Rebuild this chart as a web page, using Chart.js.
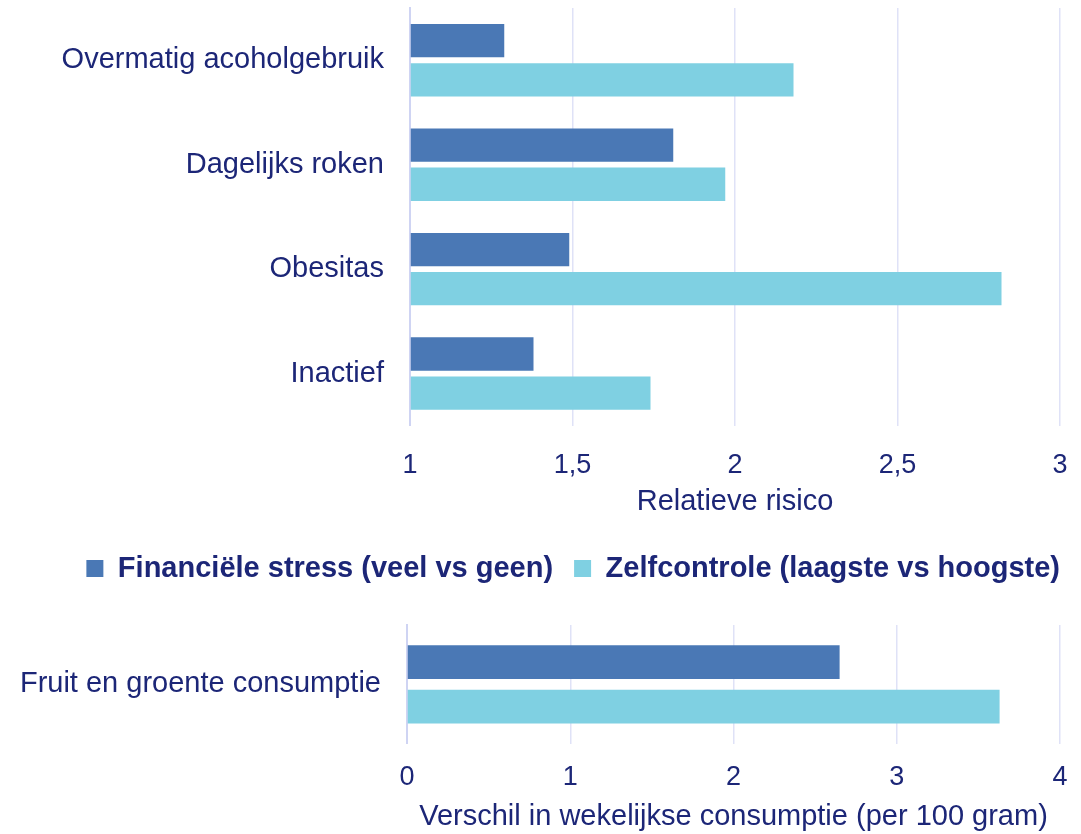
<!DOCTYPE html>
<html>
<head>
<meta charset="utf-8">
<script src="https://cdn.jsdelivr.net/npm/chart.js@4.4.1/dist/chart.umd.min.js"></script>
<style>
  html, body { margin: 0; padding: 0; background: #fff; }
  #top { position: relative; width: 1081px; height: 600px; }
  #bottom { position: relative; width: 1081px; height: 234px; }
</style>
</head>
<body>
<div id="top"><canvas id="riskChart"></canvas></div>
<div id="bottom"><canvas id="fruitChart"></canvas></div>
<script>
// Top panel: relative risk
const riskCategories = ['Overmatig acoholgebruik', 'Dagelijks roken', 'Obesitas', 'Inactief'];
const riskStress = [1.29, 1.81, 1.49, 1.38];
const riskControl = [2.18, 1.97, 2.82, 1.74];
const riskTickLabels = ['1', '1,5', '2', '2,5', '3'];

// Bottom panel: weekly consumption difference
const fruitCategories = ['Fruit en groente consumptie'];
const fruitStress = [2.65];
const fruitControl = [3.63];
const fruitTickLabels = ['0', '1', '2', '3', '4'];

const seriesNames = ['Financiële stress (veel vs geen)', 'Zelfcontrole (laagste vs hoogste)'];

const navy = '#1c2677';
const darkBlue = '#4a78b5';
const lightBlue = '#7fd0e2';
const gridColor = '#dfe2f7';

Chart.defaults.font.family = 'Liberation Sans, Arial, sans-serif';
Chart.defaults.color = navy;
Chart.defaults.animation = false;

function scaleX(min, max, step, labels, title, tickPad, titlePad) {
  return {
    type: 'linear',
    min: min,
    max: max,
    ticks: {
      stepSize: step,
      padding: tickPad,
      font: { size: 27 },
      color: navy,
      callback: (v, i) => labels[i]
    },
    grid: { color: gridColor, lineWidth: 1.5, drawTicks: false },
    border: { display: false },
    title: { display: true, text: title, font: { size: 29 }, color: navy, padding: titlePad },
    // right margin kept here so the legend can use the full width
    afterFit: (axis) => { axis.paddingLeft = 0; axis.paddingRight = 21; }
  };
}

function scaleY(width) {
  return {
    ticks: { padding: 26, font: { size: 29 }, color: navy },
    grid: { display: false, drawTicks: false },
    border: { display: true, color: '#cfd4f3', width: 2 },
    afterFit: (axis) => {
      axis.width = width;
      axis.paddingTop = 0;
      axis.paddingBottom = 0;
    }
  };
}

new Chart(document.getElementById('riskChart'), {
  type: 'bar',
  data: {
    labels: riskCategories,
    datasets: [
      { label: seriesNames[0], data: riskStress, base: 1, backgroundColor: darkBlue,
        categoryPercentage: 0.75, barPercentage: 0.85 },
      { label: seriesNames[1], data: riskControl, base: 1, backgroundColor: lightBlue,
        categoryPercentage: 0.75, barPercentage: 0.85 }
    ]
  },
  options: {
    indexAxis: 'y',
    responsive: true,
    maintainAspectRatio: false,
    layout: { padding: { top: 8, right: 0, left: 0, bottom: 7 } },
    plugins: {
      tooltip: { enabled: false },
      legend: {
        position: 'bottom',
        align: 'end',
        labels: {
          boxWidth: 17,
          boxHeight: 17,
          padding: 21,
          color: navy,
          font: { size: 29, weight: 'bold' }
        }
      }
    },
    scales: {
      x: scaleX(1, 3, 0.5, riskTickLabels, 'Relatieve risico', 24, { top: -22, bottom: 14 }),
      y: scaleY(410)
    }
  }
});

new Chart(document.getElementById('fruitChart'), {
  type: 'bar',
  data: {
    labels: fruitCategories,
    datasets: [
      { label: seriesNames[0], data: fruitStress, backgroundColor: darkBlue,
        categoryPercentage: 0.75, barPercentage: 0.76 },
      { label: seriesNames[1], data: fruitControl, backgroundColor: lightBlue,
        categoryPercentage: 0.75, barPercentage: 0.76 }
    ]
  },
  options: {
    indexAxis: 'y',
    responsive: true,
    maintainAspectRatio: false,
    layout: { padding: { top: 25, right: 0, left: 0, bottom: 0 } },
    plugins: {
      tooltip: { enabled: false },
      legend: { display: false }
    },
    scales: {
      x: scaleX(0, 4, 1, fruitTickLabels, 'Verschil in wekelijkse consumptie (per 100 gram)', 18, { top: -13, bottom: 0 }),
      y: scaleY(407)
    }
  }
});
</script>
</body>
</html>
